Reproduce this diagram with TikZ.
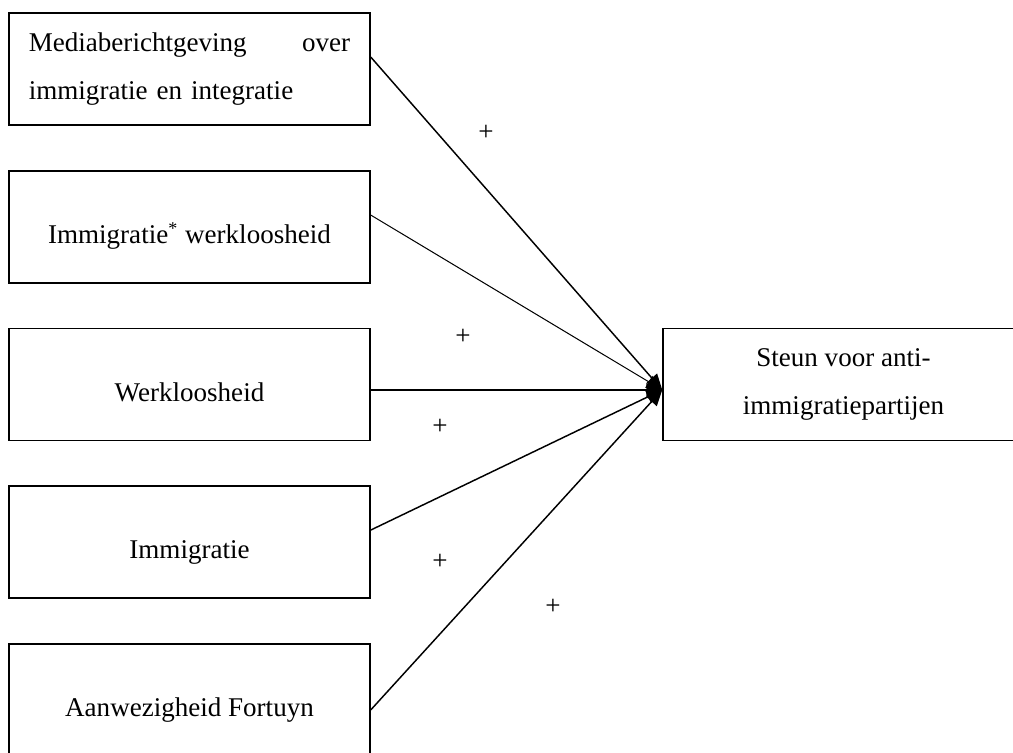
\documentclass[tikz,border=0pt]{standalone}
\usepackage{fontspec}
\setmainfont{Liberation Serif}
\usetikzlibrary{arrows.meta}
\begin{document}
\begin{tikzpicture}[x=0.0156cm, y=-0.0156cm,
    factor/.style={draw, line width=0.65pt, minimum width=5.63cm, minimum height=1.75cm, font=\fontsize{12}{21}\selectfont},
    oneline/.style={factor, text height=16pt, text depth=1pt},
    effect/.style={-{Triangle[length=7pt, width=6pt]}, line width=0.65pt},
    sign/.style={font=\fontsize{12}{14}\selectfont}]
    \useasboundingbox (0,0) rectangle (1013,753);

    % Independent factors - left column
    \node[factor, text width=5.01cm, align=left] (media) at (189.5,69) {Mediaberichtgeving \hfill over\\immigratie en integratie};
    \node[oneline] (interactie) at (189.5,227) {Immigratie\textsuperscript{*} werkloosheid};
    \node[oneline] (werkloos) at (189.5,384.5) {Werkloosheid};
    \node[oneline] (immigratie) at (189.5,542) {Immigratie};
    \node[oneline] (fortuyn) at (189.5,700) {Aanwezigheid Fortuyn};

    % Dependent variable
    \node[factor, align=center] (steun) at (843.5,384.5) {Steun voor anti-\\immigratiepartijen};
    \coordinate (doel) at ([yshift=-2.4pt]steun.west);

    % Effects
    \draw[effect] ([yshift=5.3pt]media.east) -- (doel);
    \draw[effect, line width=0.45pt] ([yshift=5.3pt]interactie.east) -- (doel);
    \draw[effect] ([yshift=-2.4pt]werkloos.east) -- (doel);
    \draw[effect] ([yshift=5.3pt]immigratie.east) -- (doel);
    \draw[effect] ([yshift=-4.4pt]fortuyn.east) -- (doel);

    % Signs of the effects
    \node[sign] (plusA) at (486,133) {+};
    \node[sign] (plusB) at (463,337) {+};
    \node[sign] (plusC) at (440,427) {+};
    \node[sign] (plusD) at (440,562) {+};
    \node[sign] (plusE) at (553,607) {+};
\end{tikzpicture}
\end{document}
